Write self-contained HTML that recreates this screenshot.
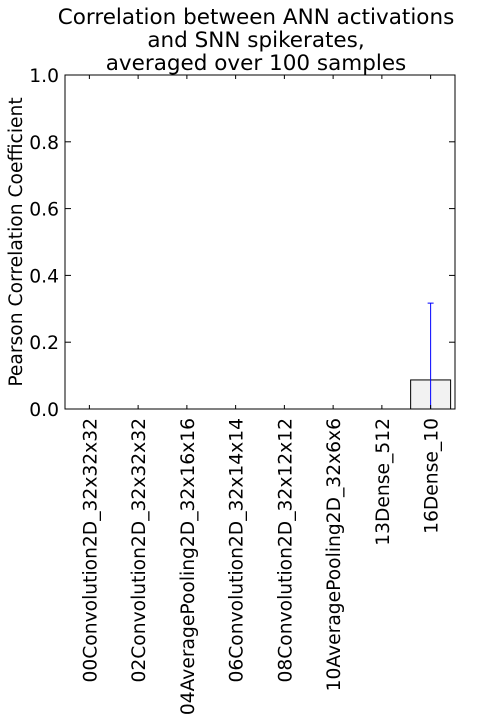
<!DOCTYPE html>
<html><head><meta charset="utf-8"><style>
body{margin:0;background:#fff;width:478px;height:720px;overflow:hidden;font-family:"Liberation Sans","DejaVu Sans",sans-serif}
text{font-family:"DejaVu Sans","Liberation Sans",sans-serif}
</style></head><body>
<svg id="c" width="478" height="720">
<g id="g"></g>
</svg>
<script>
const categories=["00Convolution2D_32x32x32","02Convolution2D_32x32x32","04AveragePooling2D_32x16x16","06Convolution2D_32x14x14","08Convolution2D_32x12x12","10AveragePooling2D_32x6x6","13Dense_512","16Dense_10"];
const values=[0,0,0,0,0,0,0,0.087];
const errors=[0,0,0,0,0,0,0,0.23];
const yTicks=[0,0.2,0.4,0.6,0.8,1.0];
const yTickLabels=["0.0","0.2","0.4","0.6","0.8","1.0"];
const L=65,R=455,T=75,B=409;
const NS="http://www.w3.org/2000/svg";
const g=document.getElementById('g');
const bw=(R-L)/categories.length;
const xc=i=>L+bw*(i+0.5);
const y=v=>B-v*(B-T);
function mk(t,a,p){const e=document.createElementNS(NS,t);for(const k in a)e.setAttribute(k,a[k]);(p||g).appendChild(e);return e;}
const title=mk('text',{x:256,y:24,'text-anchor':'middle','font-size':21.5,fill:'#000'});


["Correlation between ANN activations","and SNN spikerates,","averaged over 100 samples"].forEach((s,i)=>{const ts=mk('tspan',{x:256,dy:i?23:0},title);ts.textContent=s;});
categories.forEach((c,i)=>{
 const v=values[i];
 if(v>0){const r=mk('rect',{x:xc(i)-bw*0.41,y:y(v),width:bw*0.82,height:y(0)-y(v),fill:'#f2f2f2',stroke:'#000','stroke-width':1});
 
 }
 if(errors[i]>0){const top=y(v+errors[i]),bot=Math.min(B,y(v-errors[i]));
 const e=mk('line',{x1:xc(i),x2:xc(i),y1:top,y2:bot,stroke:'#0000ff','stroke-width':1});
 
 
 mk('line',{x1:xc(i)-3,x2:xc(i)+3,y1:top,y2:top,stroke:'#0000ff','stroke-width':1});}
 mk('line',{x1:xc(i),x2:xc(i),y1:B,y2:B-4,stroke:'#000'});
 mk('line',{x1:xc(i),x2:xc(i),y1:T,y2:T+4,stroke:'#000'});
 const t=mk('text',{transform:`translate(${xc(i)+7},418) rotate(-90)`,'text-anchor':'end','font-size':18.7,fill:'#000'});
 t.textContent=c;
 
 
});
yTicks.forEach((v,i)=>{
 mk('line',{x1:L,x2:L+6,y1:y(v),y2:y(v),stroke:'#000'});
 mk('line',{x1:R,x2:R-6,y1:y(v),y2:y(v),stroke:'#000'});
 const t=mk('text',{x:L-6,y:y(v)+7,'text-anchor':'end','font-size':18.7,fill:'#000'});
 t.textContent=yTickLabels[i];
 
 
});
const f=mk('rect',{x:L,y:T,width:R-L,height:B-T,fill:'none',stroke:'#000','stroke-width':1});


const yl=mk('text',{transform:`translate(22,${(T+B)/2}) rotate(-90)`,'text-anchor':'middle','font-size':18.7,fill:'#000'});
yl.textContent="Pearson Correlation Coefficient";


</script>
</body></html>
